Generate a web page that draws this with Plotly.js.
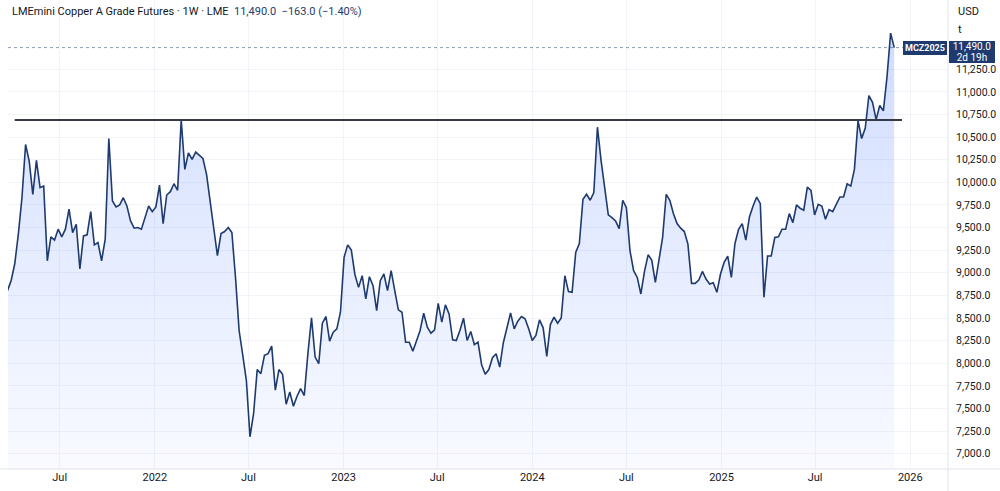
<!DOCTYPE html>
<html>
<head>
<meta charset="utf-8">
<script src="https://cdn.plot.ly/plotly-3.0.1.min.js"></script>
<style>
  html, body { margin: 0; padding: 0; background: #ffffff; }
  #chart { width: 1000px; height: 491px; }
</style>
</head>
<body>
<div id="chart"></div>
<script>
// ---- Data (weekly closes, USD/t) ----
const firstWeek = '2021-03-22';

const prices2021 = [8803, 8913, 9097, 9427, 9830, 10418, 10234, 9868, 10242, 9941,
  9959, 9133, 9397, 9361, 9482, 9397, 9482, 9703, 9445, 9537,
  9042, 9408, 9420, 9676, 9309, 9335, 9133, 9372, 10485, 9794,
  9728, 9750, 9830, 9739, 9574, 9493, 9500, 9482, 9610, 9739, 9676];

const prices2022 = [9728, 9970, 9544, 9860, 9897, 9985, 9912, 10690, 10143, 10326,
  10253, 10334, 10297, 10264, 10088, 9794, 9464, 9189, 9434, 9456,
  9500, 9445, 8949, 8362, 8090, 7812, 7187, 7445, 7930, 7885,
  8087, 8106, 8190, 7702, 7930, 7878, 7548, 7683, 7525, 7635,
  7720, 7643, 8106, 8502, 8068, 7995, 8443, 8517, 8245, 8344, 8381, 8564];

const prices2023 = [9170, 9309, 9251, 8979, 8839, 8968, 8711, 8957, 8858, 8582,
  8913, 8987, 8803, 9023, 8803, 8590, 8564, 8233, 8233, 8134,
  8245, 8362, 8553, 8399, 8333, 8370, 8663, 8454, 8645, 8546,
  8260, 8252, 8362, 8498, 8252, 8351, 8205, 8233, 7984, 7878,
  7930, 8062, 8106, 7958, 8227, 8388, 8557, 8381, 8465, 8517, 8491, 8381];

const prices2024 = [8252, 8307, 8480, 8392, 8076, 8428, 8509, 8443, 8502, 8968,
  8792, 8784, 9225, 9324, 9813, 9868, 9802, 9886, 10610, 10242,
  9959, 9640, 9610, 9574, 9489, 9802, 9720, 9243, 9023, 8949,
  8766, 9015, 9199, 9141, 8894, 9152, 9390, 9868, 9802, 9654,
  9544, 9493, 9456, 9317, 8883, 8883, 8920, 9015, 8931, 8877, 8891, 8784, 8987];

const prices2025 = [9115, 9185, 8949, 9324, 9482, 9544, 9361, 9618, 9739, 9838,
  9764, 8729, 9185, 9185, 9390, 9397, 9482, 9482, 9654, 9555,
  9750, 9714, 9692, 9948, 9912, 9640, 9757, 9739, 9592, 9698,
  9676, 9757, 9838, 9838, 9985, 9959, 10143, 10680, 10485, 10600,
  10960, 10885, 10694, 10850, 10790, 11165, 11650, 11490];

const resistanceLevel = 10690;
const resistanceStart = '2021-04-05';
const resistanceEnd = '2025-12-16';

const lastPrice = 11490;
const titleText = 'LMEmini Copper A Grade Futures · 1W · LME';
const quoteText = '11,490.0  −163.0 (−1.40%)';
const tagPriceText = '11,490.0';
const tagTimeText = '2d 19h';
const symbolText = 'MCZ2025';

const xTickVals = ['2021-07-01', '2022-01-01', '2022-07-01', '2023-01-01', '2023-07-01',
  '2024-01-01', '2024-07-01', '2025-01-01', '2025-07-01', '2026-01-01'];
const xTickText = ['Jul', '2022', 'Jul', '2023', 'Jul', '2024', 'Jul', '2025', 'Jul', '2026'];
const yTickVals = [7000, 7250, 7500, 7750, 8000, 8250, 8500, 8750, 9000, 9250,
  9500, 9750, 10000, 10250, 10500, 10750, 11000, 11250];

// ---- Build series ----
const prices = [].concat(prices2021, prices2022, prices2023, prices2024, prices2025);
const start = new Date(firstWeek + 'T00:00:00Z');
const dates = prices.map((_, i) => {
  const d = new Date(start.getTime() + i * 7 * 86400000);
  return d.toISOString().slice(0, 10);
});

const navy = '#1e3a6e';
const font = 'Roboto, "Liberation Sans", Arial, sans-serif';

const trace = {
  type: 'scatter',
  mode: 'lines',
  x: dates,
  y: prices,
  line: { color: navy, width: 1.6 },
  fill: 'tozeroy',
  fillgradient: {
    type: 'vertical',
    start: 6831,
    stop: 11650,
    colorscale: [[0, 'rgba(41,98,255,0.03)'], [0.5, 'rgba(41,98,255,0.12)'], [1, 'rgba(41,98,255,0.22)']]
  },
  hoverinfo: 'skip',
  showlegend: false
};

const layout = {
  width: 1000,
  height: 491,
  margin: { l: 8, r: 52, t: 0, b: 22, pad: 0 },
  paper_bgcolor: '#ffffff',
  plot_bgcolor: '#ffffff',
  font: { family: font, size: 11, color: '#131722' },
  showlegend: false,
  xaxis: {
    type: 'date',
    range: ['2021-03-23', '2026-03-15'],
    tickmode: 'array',
    tickvals: xTickVals,
    ticktext: xTickText,
    showgrid: true,
    gridcolor: '#f2f4f9',
    gridwidth: 1,
    zeroline: false,
    showline: false,
    ticks: '',
    tickfont: { family: font, size: 11, color: '#131722' },
    fixedrange: true
  },
  yaxis: {
    side: 'right',
    range: [6831, 12016],
    tickmode: 'array',
    tickvals: yTickVals,
    tickformat: ',.1f',
    showgrid: true,
    gridcolor: '#f2f4f9',
    gridwidth: 1,
    zeroline: false,
    showline: false,
    ticks: '',
    ticklabelstandoff: 7,
    tickfont: { family: font, size: 10.5, color: '#131722' },
    fixedrange: true
  },
  shapes: [
    // resistance line
    { type: 'line', xref: 'x', yref: 'y', x0: resistanceStart, x1: resistanceEnd,
      y0: resistanceLevel, y1: resistanceLevel, line: { color: '#363a45', width: 2 } },
    // last price dotted line
    { type: 'line', xref: 'paper', yref: 'y', x0: 0, x1: 1,
      y0: lastPrice, y1: lastPrice, line: { color: 'rgba(30,58,110,0.5)', width: 1, dash: 'dot' } },
    // bottom axis separator
    { type: 'line', xref: 'paper', yref: 'paper', x0: -0.009, x1: 1.056, y0: 0, y1: 0,
      line: { color: '#e0e3eb', width: 1 } },
    // right axis separator
    { type: 'line', xref: 'paper', yref: 'paper', x0: 1, x1: 1, y0: -0.047, y1: 1,
      line: { color: '#e0e3eb', width: 1 } }
  ],
  annotations: [
    { xref: 'paper', yref: 'paper', x: 0.002, y: 0.9745, xanchor: 'left', yanchor: 'middle',
      showarrow: false, align: 'left',
      text: titleText + '  <span style="color:' + navy + '">' + quoteText + '</span>',
      font: { family: font, size: 11, color: '#131722' } },
    { xref: 'paper', yref: 'paper', x: 1.0085, y: 0.9745, xanchor: 'left', yanchor: 'middle',
      showarrow: false, text: 'USD', font: { family: font, size: 11, color: '#131722' } },
    { xref: 'paper', yref: 'paper', x: 1.0085, y: 0.938, xanchor: 'left', yanchor: 'middle',
      showarrow: false, text: 't', font: { family: font, size: 11, color: '#131722' } },
    // price tag on the axis (price line)
    { xref: 'paper', yref: 'y', x: 1.001, y: lastPrice, xanchor: 'left', yanchor: 'middle',
      yshift: 1.5, showarrow: false, align: 'center', text: tagPriceText,
      bgcolor: navy, borderwidth: 0, borderpad: 0, width: 46, height: 11,
      font: { family: font, size: 10, color: '#ffffff' } },
    // countdown line of the tag
    { xref: 'paper', yref: 'y', x: 1.001, y: lastPrice, xanchor: 'left', yanchor: 'top',
      yshift: -4, showarrow: false, align: 'center', text: tagTimeText,
      bgcolor: navy, borderwidth: 0, borderpad: 0, width: 46, height: 11,
      font: { family: font, size: 10, color: '#ffffff' } },
    // symbol label
    { xref: 'paper', yref: 'y', x: 0.9985, y: lastPrice, xanchor: 'right', yanchor: 'middle',
      showarrow: false, text: '<b>' + symbolText + '</b>',
      bgcolor: navy, bordercolor: navy, borderpad: 1,
      font: { family: font, size: 9, color: '#ffffff' } }
  ]
};

Plotly.newPlot('chart', [trace], layout, { staticPlot: true, displayModeBar: false });
</script>
</body>
</html>
